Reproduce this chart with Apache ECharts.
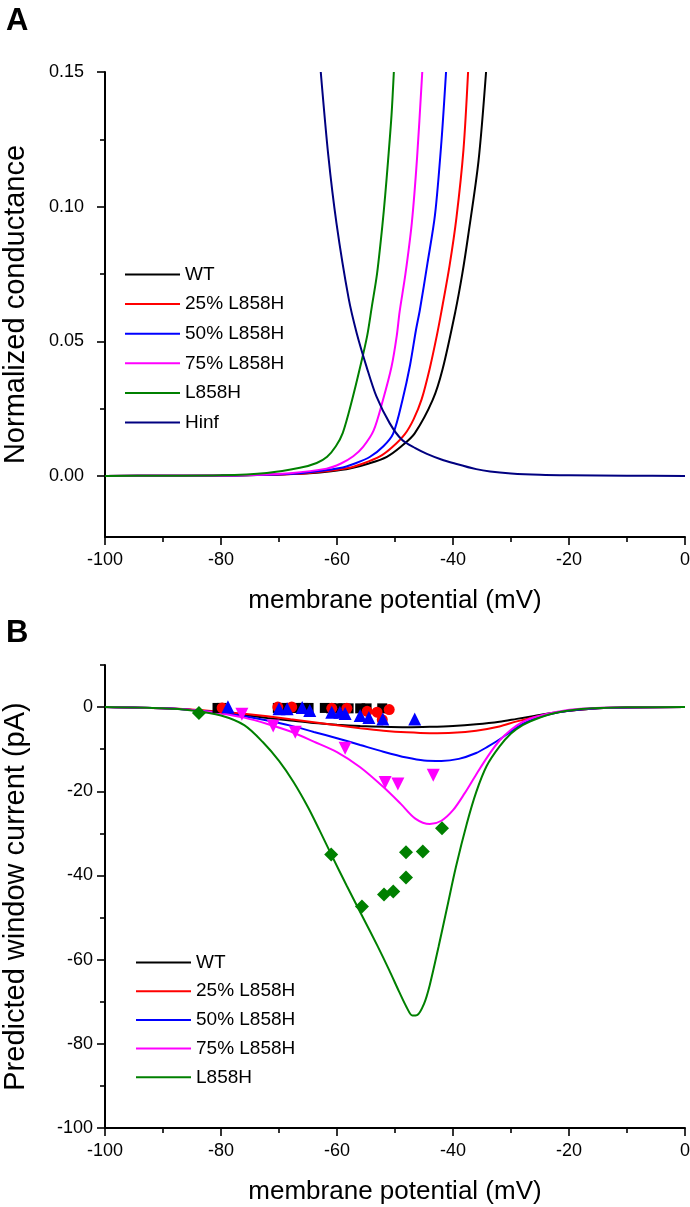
<!DOCTYPE html>
<html>
<head>
<meta charset="utf-8">
<script src="https://cdn.jsdelivr.net/npm/echarts@6/dist/echarts.min.js"></script>
<style>
html,body{margin:0;padding:0;background:#fff;}
#chart{width:690px;height:1207px;}
</style>
</head>
<body>
<div id="chart"></div>
<script>
// ---------- Panel A: normalized conductance (mV, g) ----------
const aWT = [[-100,0],[-90,0.00003],[-80,0.0001],[-72,0.0004],[-64.7,0.001],[-61,0.0017],[-57.8,0.0027],[-54.5,0.0046],[-51.4,0.0071],[-49,0.0108],[-46.6,0.0158],[-43.5,0.0282],[-41.8,0.0396],[-39.6,0.061],[-38.4,0.075],[-37.4,0.089],[-35.6,0.117],[-34.3,0.150]];
const a25 = [[-100,0],[-90,0.00003],[-80,0.0001],[-72,0.0004],[-65.2,0.001],[-58.3,0.0028],[-55.5,0.0046],[-52.6,0.0072],[-50.5,0.0106],[-48.3,0.0155],[-46.8,0.021],[-45.4,0.0285],[-44.0,0.040],[-42.8,0.052],[-42.0,0.061],[-40.6,0.078],[-39.4,0.096],[-38.2,0.121],[-37.4,0.150]];
const a50 = [[-100,0],[-90,0.00003],[-80,0.0001],[-72,0.0004],[-66.4,0.001],[-59.5,0.0029],[-56.8,0.0047],[-54.3,0.0071],[-52,0.011],[-50.3,0.0158],[-48.7,0.0283],[-47.4,0.0412],[-46.4,0.054],[-45.7,0.0618],[-44.4,0.079],[-43.1,0.097],[-42.0,0.124],[-41.2,0.150]];
const a75 = [[-100,0],[-85,0.00005],[-75,0.0003],[-68.1,0.001],[-61.8,0.0027],[-59.4,0.0045],[-57.2,0.0073],[-55.5,0.0108],[-53.7,0.0168],[-52.1,0.028],[-50.6,0.0405],[-49.7,0.052],[-49.2,0.061],[-48.2,0.075],[-47.1,0.094],[-46.2,0.118],[-45.3,0.150]];
const aL858H = [[-100,0],[-90,0.00003],[-80,0.0002],[-72.1,0.0011],[-66.4,0.003],[-63.5,0.0048],[-61.7,0.0071],[-60.2,0.011],[-59.0,0.016],[-57.4,0.0282],[-56.0,0.0405],[-54.8,0.052],[-54.0,0.0628],[-53.1,0.075],[-52.2,0.0925],[-51.7,0.104],[-51.2,0.117],[-50.6,0.134],[-50.2,0.150]];
const aHinf = [[-62.8,0.150],[-61.5,0.119],[-60.1,0.094],[-58.0,0.066],[-56.6,0.053],[-54.9,0.0405],[-53.2,0.0295],[-50.9,0.0195],[-48.8,0.0134],[-46.5,0.0103],[-44.5,0.0082],[-42,0.0061],[-40,0.0048],[-36,0.0025],[-33.6,0.0016],[-30,0.0009],[-25,0.0004],[-20,0.0002],[-10,0.00003],[0,0]];

// ---------- Panel B: predicted window current fits (mV, pA) ----------
const bWT = [[-100,0],[-90,-0.3],[-84,-0.8],[-80,-1.3],[-76,-1.9],[-72,-2.6],[-68,-3.2],[-64,-3.8],[-60,-4.2],[-56,-4.5],[-52,-4.7],[-48,-4.8],[-44,-4.7],[-40,-4.5],[-36,-4.1],[-32,-3.5],[-29,-2.8],[-26,-2.1],[-23,-1.4],[-20,-0.9],[-15,-0.3],[-10,-0.1],[0,0]];
const b25 = [[-100,0],[-90,-0.3],[-84,-0.7],[-80,-1.1],[-76,-1.6],[-72,-2.2],[-68,-2.9],[-64,-3.6],[-60,-4.3],[-56,-5.0],[-52,-5.6],[-48,-6.0],[-44,-6.2],[-40,-6.1],[-36,-5.6],[-32,-4.6],[-29,-3.4],[-26,-2.4],[-23,-1.5],[-20,-0.9],[-15,-0.3],[-10,-0.1],[0,0]];
const b50 = [[-100,0],[-90,-0.3],[-84,-0.8],[-80,-1.4],[-76,-2.2],[-72,-3.2],[-68,-4.4],[-64,-5.9],[-60,-7.4],[-56,-9.0],[-52,-10.6],[-48,-12.0],[-45,-12.7],[-42,-12.8],[-39,-12.3],[-36,-10.9],[-34,-9.4],[-32,-7.7],[-30,-5.8],[-28,-4.0],[-26,-2.8],[-23,-1.6],[-20,-0.9],[-15,-0.3],[-10,-0.1],[0,0]];
const b75 = [[-100,0],[-90,-0.3],[-84,-0.8],[-80,-1.5],[-76,-2.5],[-72,-4.0],[-68,-5.8],[-64,-8.2],[-60,-10.7],[-56,-14.3],[-52,-19.0],[-49,-23.0],[-46.5,-26.5],[-44,-27.8],[-42,-27.0],[-40,-24.5],[-38,-20.5],[-36,-16.0],[-34,-11.7],[-32,-8.0],[-30,-5.4],[-28,-3.5],[-26,-2.4],[-22,-1.1],[-18,-0.4],[-10,-0.05],[0,0]];
const bL858H = [[-100,0],[-90,-0.3],[-85,-0.8],[-80,-2.0],[-76,-4.3],[-72.8,-8.3],[-70,-12.8],[-67.5,-17.8],[-65,-23.8],[-63,-29.3],[-61,-35.0],[-58.3,-42.5],[-55.7,-49.5],[-53,-56.8],[-51,-62.5],[-49.3,-67.6],[-48,-71.3],[-47,-73.3],[-46.2,-73.2],[-45,-70.5],[-44,-66.0],[-42.5,-57.0],[-41,-47.5],[-39.5,-38.0],[-37.6,-27.6],[-36,-20.2],[-34.2,-14.0],[-32,-9.4],[-30,-6.3],[-28,-4.3],[-26,-3.0],[-24,-2.0],[-22,-1.3],[-20,-0.8],[-16,-0.3],[-10,-0.05],[0,0]];

// ---------- Panel B: measured points (mV, pA) ----------
const ptWT = [[-80.6,-0.2],[-79.9,-0.2],[-70.2,-0.2],[-69.2,-0.2],[-68.0,-0.2],[-66.8,-0.2],[-65.8,-0.2],[-64.9,-0.2],[-62.1,-0.2],[-61.0,-0.3],[-59.9,-0.3],[-58.9,-0.3],[-58.0,-0.3],[-56.0,-0.3],[-54.9,-0.3],[-52.2,-0.3]];
const pt25 = [[-79.8,-0.2],[-70.2,0],[-67.8,0],[-60.9,-0.3],[-58.3,-0.3],[-54.8,-1.0],[-53.1,-1.2],[-52.2,-3.0],[-51.0,-0.6]];
const pt50 = [[-78.8,0.1],[-70.0,-0.4],[-68.6,-0.4],[-66.0,-0.1],[-64.7,-0.8],[-60.9,-1.2],[-59.5,-1.2],[-58.6,-1.5],[-56.0,-2.0],[-54.5,-2.5],[-52.1,-2.8],[-46.6,-2.8]];
const pt75 = [[-76.4,-1.7],[-71.0,-4.5],[-67.2,-6.0],[-58.6,-9.8],[-51.7,-17.9],[-49.5,-18.3],[-43.4,-16.2]];
const ptL858H = [[-83.8,-1.4],[-61.0,-35.0],[-55.7,-47.4],[-51.9,-44.5],[-50.3,-43.8],[-48.1,-40.5],[-48.1,-34.5],[-45.2,-34.3],[-41.9,-28.8]];

// ---------- labels / ticks ----------
const namesA = ['WT','25% L858H','50% L858H','75% L858H','L858H','Hinf'];
const namesB = ['WT','25% L858H','50% L858H','75% L858H','L858H'];
const colors = {'WT':'#000000','25% L858H':'#ff0000','50% L858H':'#0000ff','75% L858H':'#ff00ff','L858H':'#008000','Hinf':'#000080'};
const yTicksA = [0,0.05,0.10,0.15];
const yMinorA = [0.025,0.075,0.125];
const yTicksB = [-100,-80,-60,-40,-20,0];
const yMinorB = [-90,-70,-50,-30,-10,10];
const xName = 'membrane potential (mV)';
const yNameA = 'Normalized conductance';
const yNameB = 'Predicted window current (pA)';

const FONT = "'Liberation Sans', Arial, sans-serif";
const chart = echarts.init(document.getElementById('chart'), null, {renderer:'canvas'});

const axisLine = {show:true, onZero:false, lineStyle:{color:'#000', width:2}};
const axisTickMajor = {show:true, inside:false, length:8, lineStyle:{color:'#000', width:1.6}};
const axisLabelStyle = {color:'#000', fontSize:18, fontFamily:FONT};
const xNameStyle = {color:'#000', fontSize:26, fontFamily:FONT};
const yNameStyle = {color:'#000', fontSize:29, fontFamily:FONT};

const gridA = {left:105, right:5, top:72, height:465, outerBoundsMode:'none', containLabel:false};
const gridB = {left:105, right:5, top:665, height:463, outerBoundsMode:'none', containLabel:false};

function xAxisFor(grid){
  return {
    type:'value', gridIndex:grid, min:-100, max:0, interval:20,
    axisLine:axisLine, axisTick:axisTickMajor,
    minorTick:{show:true, splitNumber:2, length:5, lineStyle:{color:'#000', width:1.6}},
    minorSplitLine:{show:false}, splitLine:{show:false},
    axisLabel:Object.assign({margin:14}, axisLabelStyle),
    name:xName, nameLocation:'middle', nameGap:51, nameTextStyle:xNameStyle
  };
}
// hidden helper axes on an overlapping grid, carrying the short minor ticks of the y axis
function helperX(grid){
  return {type:'value', gridIndex:grid, min:-100, max:0, show:false};
}
function minorYAxis(grid, min, max, vals){
  return {type:'value', gridIndex:grid, min:min, max:max, position:'left',
    axisLine:{show:false, onZero:false}, axisLabel:{show:false}, splitLine:{show:false},
    axisTick:{show:true, inside:false, customValues:vals, length:5, lineStyle:{color:'#000', width:1.6}}};
}

const lineSeries = (name, data, xi, yi) => ({
  name:name, type:'line', xAxisIndex:xi, yAxisIndex:yi, data:data,
  showSymbol:false, symbol:'none', smooth:0.3,
  lineStyle:{color:colors[name], width:2}, itemStyle:{color:colors[name]},
  clip:true, z:2, animation:false
});
const scatterSeries = (name, data, symbol, size, rot) => ({
  name:name+' data', type:'scatter', xAxisIndex:1, yAxisIndex:1, data:data,
  symbol:symbol, symbolSize:size, symbolRotate:rot||0,
  itemStyle:{color:colors[name], opacity:1}, z:5, animation:false
});
const legendCommon = {orient:'vertical', padding:0, itemWidth:55, itemHeight:2, icon:'rect',
  textStyle:{fontSize:19, color:'#000', fontFamily:FONT}, selectedMode:false};

const option = {
  backgroundColor:'#fff',
  animation:false,
  textStyle:{fontFamily:FONT},
  title:[
    {text:'A', left:6, top:6, padding:0, textStyle:{fontSize:31, fontWeight:'bold', color:'#000', fontFamily:FONT}},
    {text:'B', left:6, top:618, padding:0, textStyle:{fontSize:31, fontWeight:'bold', color:'#000', fontFamily:FONT}}
  ],
  grid:[gridA, gridB, Object.assign({}, gridA), Object.assign({}, gridB)],
  legend:[
    Object.assign({data:namesA, left:125, top:265, itemGap:10.6}, legendCommon),
    Object.assign({data:namesB, left:136, top:953, itemGap:9.7}, legendCommon)
  ],
  xAxis:[xAxisFor(0), xAxisFor(1), helperX(2), helperX(3)],
  yAxis:[
    {type:'value', gridIndex:0, min:-0.0227, max:0.15,
     axisLine:axisLine, axisTick:Object.assign({customValues:yTicksA}, axisTickMajor),
     axisLabel:Object.assign({customValues:yTicksA, margin:21, formatter:v=>v.toFixed(2)}, axisLabelStyle),
     splitLine:{show:false},
     name:yNameA, nameLocation:'middle', nameGap:75, nameRotate:90, nameTextStyle:yNameStyle},
    {type:'value', gridIndex:1, min:-100, max:10,
     axisLine:axisLine, axisTick:Object.assign({customValues:yTicksB}, axisTickMajor),
     axisLabel:Object.assign({customValues:yTicksB, margin:12}, axisLabelStyle),
     splitLine:{show:false},
     name:yNameB, nameLocation:'middle', nameGap:75, nameRotate:90, nameTextStyle:yNameStyle},
    minorYAxis(2, -0.0227, 0.15, yMinorA),
    minorYAxis(3, -100, 10, yMinorB)
  ],
  series:[
    lineSeries('WT', aWT, 0, 0),
    lineSeries('25% L858H', a25, 0, 0),
    lineSeries('50% L858H', a50, 0, 0),
    lineSeries('75% L858H', a75, 0, 0),
    lineSeries('L858H', aL858H, 0, 0),
    lineSeries('Hinf', aHinf, 0, 0),
    lineSeries('WT', bWT, 1, 1),
    lineSeries('25% L858H', b25, 1, 1),
    lineSeries('50% L858H', b50, 1, 1),
    lineSeries('75% L858H', b75, 1, 1),
    lineSeries('L858H', bL858H, 1, 1),
    scatterSeries('WT', ptWT, 'rect', 10),
    scatterSeries('25% L858H', pt25, 'circle', 11),
    scatterSeries('50% L858H', pt50, 'triangle', 13),
    scatterSeries('75% L858H', pt75, 'triangle', 13, 180),
    scatterSeries('L858H', ptL858H, 'diamond', 14)
  ]
};
chart.setOption(option);
</script>
</body>
</html>
